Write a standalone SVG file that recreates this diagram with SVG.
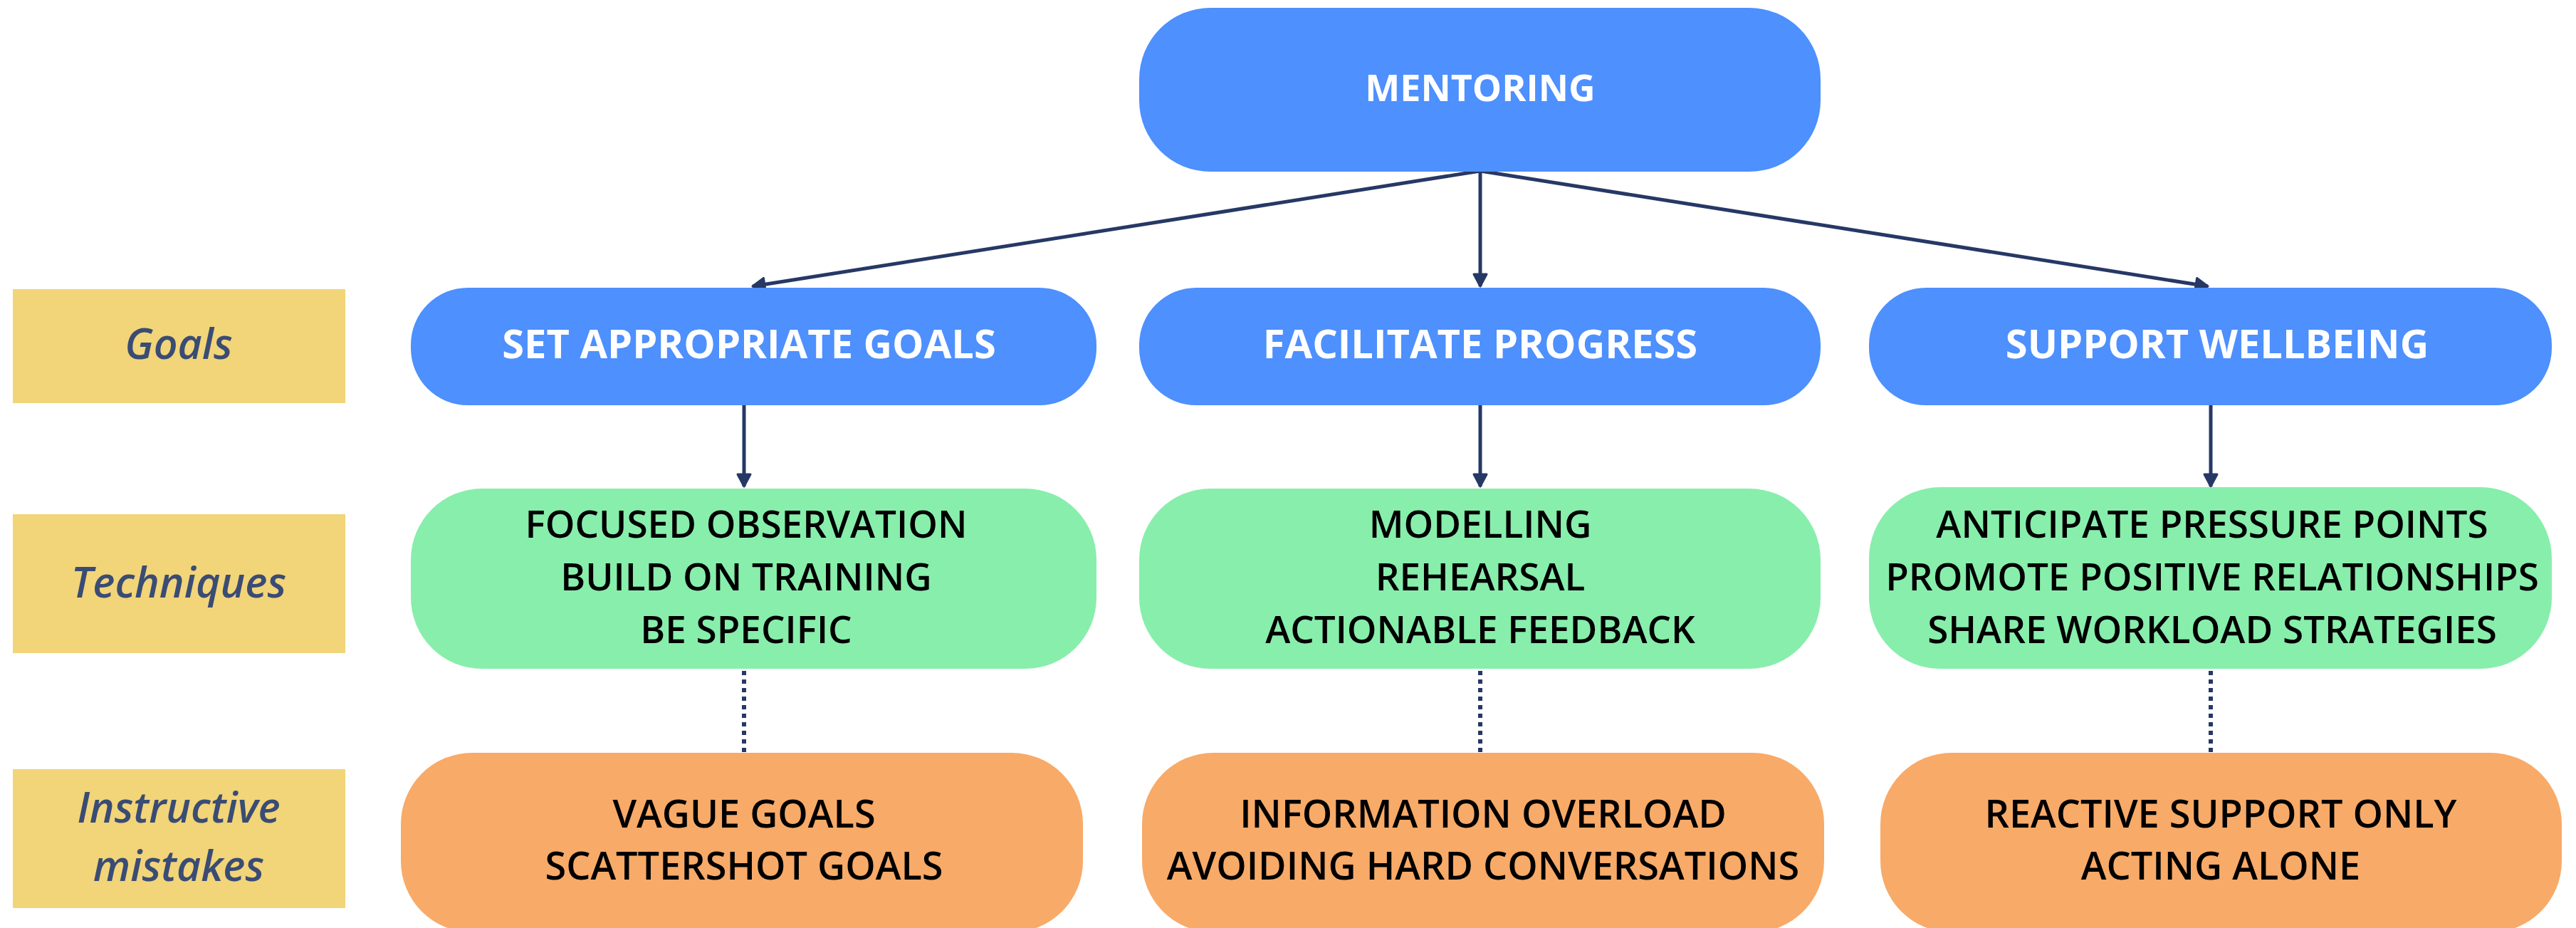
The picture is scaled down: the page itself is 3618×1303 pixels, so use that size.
<svg xmlns="http://www.w3.org/2000/svg" width="3618" height="1303" viewBox="0 0 3618 1303">
<defs>
<style>
.bg{fill:#ffffff}
.blue{fill:#4d90fe}
.green{fill:#88eeac}
.orange{fill:#f8aa68}
.yellow{fill:#f2d479}
.t{font-family:"Open Sans","Liberation Sans",sans-serif;text-anchor:middle}
.tm{fill:#ffffff;font-weight:700;font-size:52px}
.tw{fill:#ffffff;font-weight:700;font-size:56px}
.tb{fill:#000000;font-weight:600;font-size:53px}
.to{fill:#000000;font-weight:600;font-size:54px}
.tl{fill:#3a4c74;font-weight:600;font-style:italic;font-size:59px}
.arrow{stroke:#263865;stroke-width:5;fill:none}
.dot{stroke:#263865;stroke-width:6;stroke-dasharray:6 6;fill:none}
</style>
<marker id="ah" markerUnits="userSpaceOnUse" markerWidth="24" markerHeight="24" viewBox="0 0 24 24" refX="20" refY="12" orient="auto">
<path d="M3,3 L20,12 L3,21 Z" fill="#263865" stroke="#263865" stroke-width="3" stroke-linejoin="round"/>
</marker>
</defs>
<rect class="bg" x="0" y="0" width="3618" height="1303"/>

<g id="connectors">
<line class="arrow" x1="2079" y1="240" x2="1057" y2="402" marker-end="url(#ah)"/>
<line class="arrow" x1="2079" y1="240" x2="2079" y2="402" marker-end="url(#ah)"/>
<line class="arrow" x1="2079" y1="240" x2="3101" y2="402" marker-end="url(#ah)"/>
<line class="arrow" x1="1045" y1="567" x2="1045" y2="683" marker-end="url(#ah)"/>
<line class="arrow" x1="2079" y1="567" x2="2079" y2="683" marker-end="url(#ah)"/>
<line class="arrow" x1="3105" y1="567" x2="3105" y2="683" marker-end="url(#ah)"/>
<line class="dot" x1="1045" y1="942" x2="1045" y2="1056"/>
<line class="dot" x1="2079" y1="942" x2="2079" y2="1056"/>
<line class="dot" x1="3105" y1="942" x2="3105" y2="1056"/>
</g>

<g id="label-goals">
<rect class="yellow" x="18" y="406" width="467" height="160"/>
<text class="t tl" x="251" y="504">Goals</text>
</g>
<g id="label-techniques">
<rect class="yellow" x="18" y="722" width="467" height="195"/>
<text class="t tl" x="251" y="839">Techniques</text>
</g>
<g id="label-mistakes">
<rect class="yellow" x="18" y="1080" width="467" height="195"/>
<text class="t tl" x="251" y="1155">Instructive</text>
<text class="t tl" x="251" y="1237">mistakes</text>
</g>

<g id="mentoring">
<rect class="blue" x="1600" y="11" width="957" height="230" rx="100" ry="100"/>
<text class="t tm" x="2079" y="142">MENTORING</text>
</g>

<g id="goal-set">
<rect class="blue" x="577" y="404" width="963" height="165" rx="80" ry="80"/>
<text class="t tw" x="1052" y="503">SET APPROPRIATE GOALS</text>
</g>
<g id="goal-facilitate">
<rect class="blue" x="1600" y="404" width="957" height="165" rx="80" ry="80"/>
<text class="t tw" x="2079" y="503">FACILITATE PROGRESS</text>
</g>
<g id="goal-support">
<rect class="blue" x="2625" y="404" width="959" height="165" rx="80" ry="80"/>
<text class="t tw" x="3114" y="503">SUPPORT WELLBEING</text>
</g>

<g id="tech-set">
<rect class="green" x="577" y="686" width="963" height="253" rx="100" ry="100"/>
<text class="t tb" x="1048" y="755">FOCUSED OBSERVATION</text>
<text class="t tb" x="1048" y="829">BUILD ON TRAINING</text>
<text class="t tb" x="1048" y="903">BE SPECIFIC</text>
</g>
<g id="tech-facilitate">
<rect class="green" x="1600" y="686" width="957" height="253" rx="100" ry="100"/>
<text class="t tb" x="2079" y="755">MODELLING</text>
<text class="t tb" x="2079" y="829">REHEARSAL</text>
<text class="t tb" x="2079" y="903">ACTIONABLE FEEDBACK</text>
</g>
<g id="tech-support">
<rect class="green" x="2625" y="684" width="959" height="255" rx="100" ry="100"/>
<text class="t tb" x="3107" y="755">ANTICIPATE PRESSURE POINTS</text>
<text class="t tb" x="3107" y="829">PROMOTE POSITIVE RELATIONSHIPS</text>
<text class="t tb" x="3107" y="903">SHARE WORKLOAD STRATEGIES</text>
</g>

<g id="mistake-set">
<rect class="orange" x="563" y="1057" width="958" height="252" rx="100" ry="100"/>
<text class="t to" x="1045" y="1162">VAGUE GOALS</text>
<text class="t to" x="1045" y="1235">SCATTERSHOT GOALS</text>
</g>
<g id="mistake-facilitate">
<rect class="orange" x="1604" y="1057" width="958" height="252" rx="100" ry="100"/>
<text class="t to" x="2083" y="1162">INFORMATION OVERLOAD</text>
<text class="t to" x="2083" y="1235">AVOIDING HARD CONVERSATIONS</text>
</g>
<g id="mistake-support">
<rect class="orange" x="2641" y="1057" width="957" height="252" rx="100" ry="100"/>
<text class="t to" x="3119" y="1162">REACTIVE SUPPORT ONLY</text>
<text class="t to" x="3119" y="1235">ACTING ALONE</text>
</g>
</svg>
